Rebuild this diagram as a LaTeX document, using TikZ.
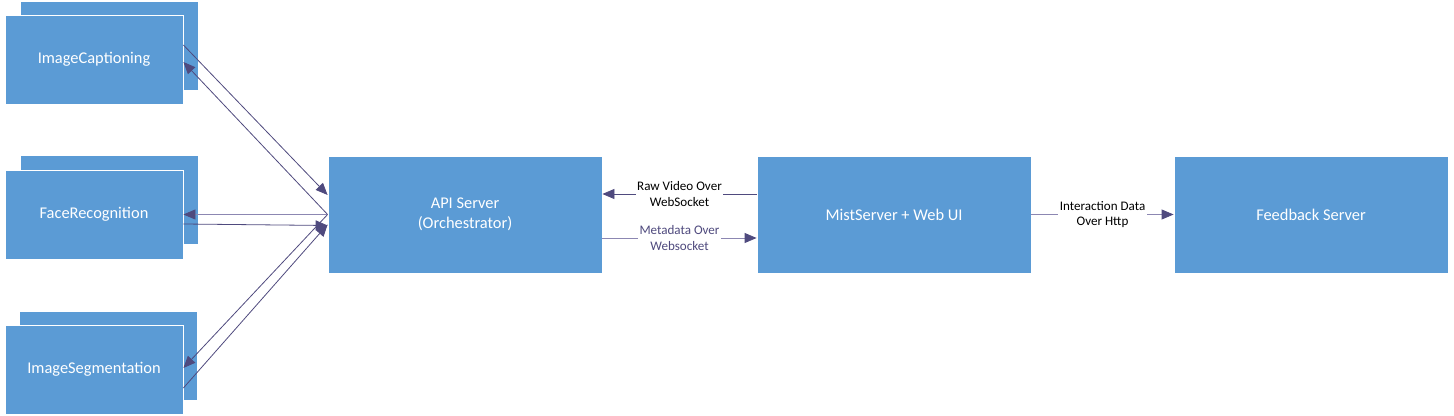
\documentclass[tikz,border=0pt]{standalone}
\usepackage{fontspec}
\setmainfont{Carlito}
\usetikzlibrary{arrows.meta,calc}

\definecolor{boxblue}{HTML}{5B9BD5}
\definecolor{pfeil}{HTML}{4F4A7E}
\definecolor{pfeilhell}{HTML}{8C87B2}

\begin{document}
\begin{tikzpicture}[
    x=0.75pt, y=-0.75pt,
    kasten/.style={
      rectangle,
      fill=boxblue,
      draw=white,
      line width=0.6pt,
      text=white,
      font=\fontsize{12.3}{15}\selectfont,
      align=center,
      inner sep=0pt,
      minimum width=133.5pt,
      minimum height=66.75pt},
    gross/.style={
      kasten,
      minimum width=205.5pt,
      minimum height=87.75pt},
    pfeilspitze/.style={
      draw=pfeil,
      line width=0.6pt,
      -{Triangle[length=9pt,width=7.5pt,color=pfeil]}},
    beschriftung/.style={
      fill=white,
      inner sep=1pt,
      align=center,
      font=\fontsize{9.8}{11.5}\selectfont}
    ]

  \useasboundingbox (0,0) rectangle (1454,416);

  % Dienste links, jeweils mit Schatten-Kasten dahinter
  \node at (109,46)    (captionHinten) [kasten] {};
  \node at (94,59.5)   (caption)       [kasten] {ImageCaptioning};

  \node at (109,200)   (faceHinten)    [kasten] {};
  \node at (94,214.5)  (face)          [kasten] {FaceRecognition};

  \node at (108,356)   (segHinten)     [kasten] {};
  \node at (94,369.5)  (seg)           [kasten] {ImageSegmentation};

  % Server
  \node at (465,214.5)  (api)      [gross] {API Server\\(Orchestrator)};
  \node at (894,214.5)  (mist)     [gross] {MistServer + Web UI};
  \node at (1311,214.5) (feedback) [gross] {Feedback Server};

  % Verbindungen zu den Diensten
  \draw [pfeilspitze] ($(caption.east)+(0,-14.5)$) -- ($(api.west)+(0,-19.5)$);
  \draw [pfeilspitze] (api.west) -- ($(caption.east)+(0,2.5)$);

  \draw [pfeilspitze, draw=pfeilhell] (api.west) -- (face.east);
  \draw [pfeilspitze] ($(face.east)+(0,9.5)$) -- ($(api.west)+(0,11)$);

  \draw [pfeilspitze] (api.west) -- ($(seg.east)+(0,-1.5)$);
  \draw [pfeilspitze] ($(seg.east)+(0,18.5)$) -- ($(api.west)+(0,10)$);

  % Verbindungen zwischen den Servern
  \draw [pfeilspitze] ($(mist.west)+(0,-20.5)$) -- ($(api.east)+(0,-20.5)$)
    node [beschriftung, midway] {Raw Video Over\\WebSocket};
  \draw [pfeilspitze, draw=pfeilhell] ($(api.east)+(0,23.5)$) -- ($(mist.west)+(0,23.5)$)
    node [beschriftung, midway, text=pfeil] {Metadata Over\\Websocket};
  \draw [pfeilspitze, draw=pfeilhell] (mist.east) -- (feedback.west)
    node [beschriftung, midway] {Interaction Data\\Over Http};

\end{tikzpicture}
\end{document}
